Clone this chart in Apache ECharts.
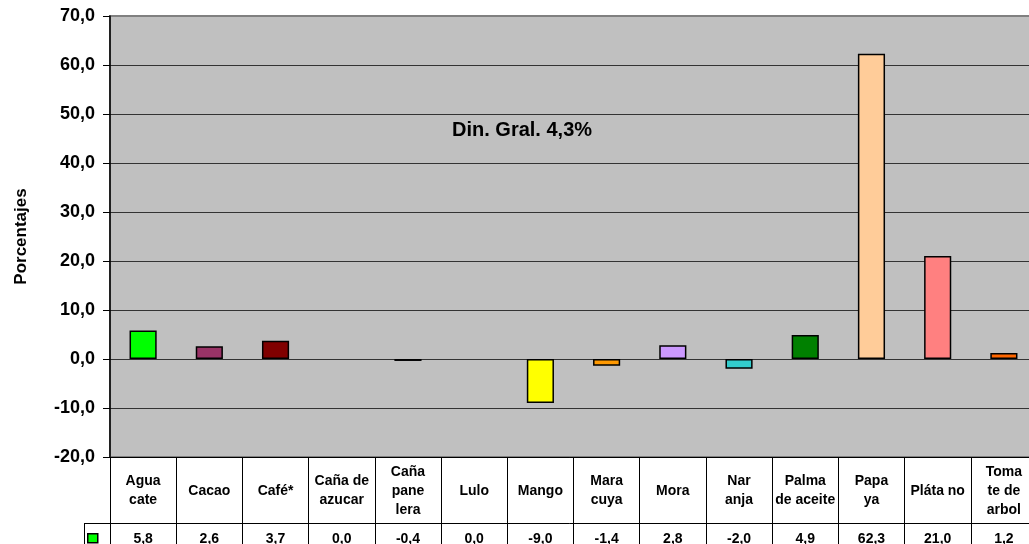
<!DOCTYPE html>
<html>
<head>
<meta charset="utf-8">
<script src="https://cdn.jsdelivr.net/npm/echarts@6/dist/echarts.min.js"></script>
<style>
html,body{margin:0;padding:0;background:#fff;}
#c{width:1029px;height:544px;}
</style>
</head>
<body>
<div id="c"></div>
<script>
const categories = ["Agua\ncate","Cacao","Café*","Caña de\nazucar","Caña\npane\nlera","Lulo","Mango","Mara\ncuya","Mora","Nar\nanja","Palma\nde aceite","Papa\nya","Pláta no","Toma\nte de\narbol"];
const values = [5.8, 2.6, 3.7, 0.0, -0.4, 0.0, -9.0, -1.4, 2.8, -2.0, 4.9, 62.3, 21.0, 1.2];
const barColors = ["#00FF00","#993366","#800000","#808080","#333399","#808080","#FFFF00","#FF9900","#CC99FF","#33CCCC","#008000","#FFCC99","#FF8080","#FF6600"];
const yTicks = {min:-20, max:70, interval:10};
const annotation = "Din. Gral. 4,3%";
const yTitle = "Porcentajes";

const FONT = '"Liberation Sans", Arial, sans-serif';
const fmt = v => v.toFixed(1).replace('.', ',');

const chart = echarts.init(document.getElementById('c'), null, {renderer:'canvas'});
const splitColors = [];
for (let v = yTicks.min; v <= yTicks.max; v += yTicks.interval) splitColors.push(v === yTicks.max ? '#808080' : '#333333');

chart.setOption({
  animation:false,
  backgroundColor:'#ffffff',
  textStyle:{fontFamily:FONT},
  title:{
    text:annotation, left:452, top:120, padding:0,
    textStyle:{fontSize:20, fontWeight:'bold', color:'#000', fontFamily:FONT}
  },
  legend:{
    left:87, top:533, padding:0, itemWidth:10, itemHeight:9, selectedMode:false,
    formatter:()=>'',
    data:[{name:'Serie', icon:'rect', itemStyle:{color:'#00FF00', borderColor:'#000', borderWidth:1.5}}]
  },
  grid:{
    left:110, top:16, width:927, height:441,
    outerBoundsMode:'none', containLabel:false,
    show:true, backgroundColor:'#C0C0C0', borderColor:'#808080', borderWidth:2
  },
  xAxis:[{
    type:'category', data:categories, position:'bottom',
    axisLine:{onZero:false, show:true, lineStyle:{color:'#000', width:1}},
    axisTick:{show:true, interval:0, length:87, lineStyle:{color:'#000', width:1}},
    axisLabel:{interval:0, margin:34, verticalAlign:'middle', color:'#000', fontSize:14, fontWeight:'bold', lineHeight:19, fontFamily:FONT},
    splitLine:{show:false}
  },{
    type:'category', data:values.map(fmt), position:'bottom', offset:66,
    axisLine:{onZero:false, show:true, lineStyle:{color:'#000', width:1}},
    axisTick:{show:false},
    axisLabel:{interval:0, margin:16, verticalAlign:'middle', color:'#000', fontSize:14, fontWeight:'bold', fontFamily:FONT},
    splitLine:{show:false}
  }],
  yAxis:{
    type:'value', min:yTicks.min, max:yTicks.max, interval:yTicks.interval,
    name:yTitle, nameLocation:'middle', nameGap:80,
    nameTextStyle:{fontSize:17, fontWeight:'bold', color:'#000', fontFamily:FONT},
    axisLine:{show:true, lineStyle:{color:'#000', width:1.5}},
    axisTick:{show:true, length:7, lineStyle:{color:'#000', width:1}},
    axisLabel:{formatter:fmt, margin:15, color:'#000', fontSize:18, fontWeight:'bold', fontFamily:FONT},
    splitLine:{show:true, lineStyle:{color:splitColors, width:1}}
  },
  graphic:[
    {type:'line', shape:{x1:84, y1:523.5, x2:110, y2:523.5}, style:{stroke:'#000', lineWidth:1}, z:100},
    {type:'line', shape:{x1:84.5, y1:523, x2:84.5, y2:544}, style:{stroke:'#000', lineWidth:1}, z:100}
  ],
  series:[{
    name:'Serie', type:'bar', xAxisIndex:0, barWidth:'41%',
    data:values.map((v,i)=>({value:v, itemStyle:{color:barColors[i], borderColor:'#000', borderWidth: v===0 ? 0 : 1.5}}))
  }]
});
</script>
</body>
</html>
